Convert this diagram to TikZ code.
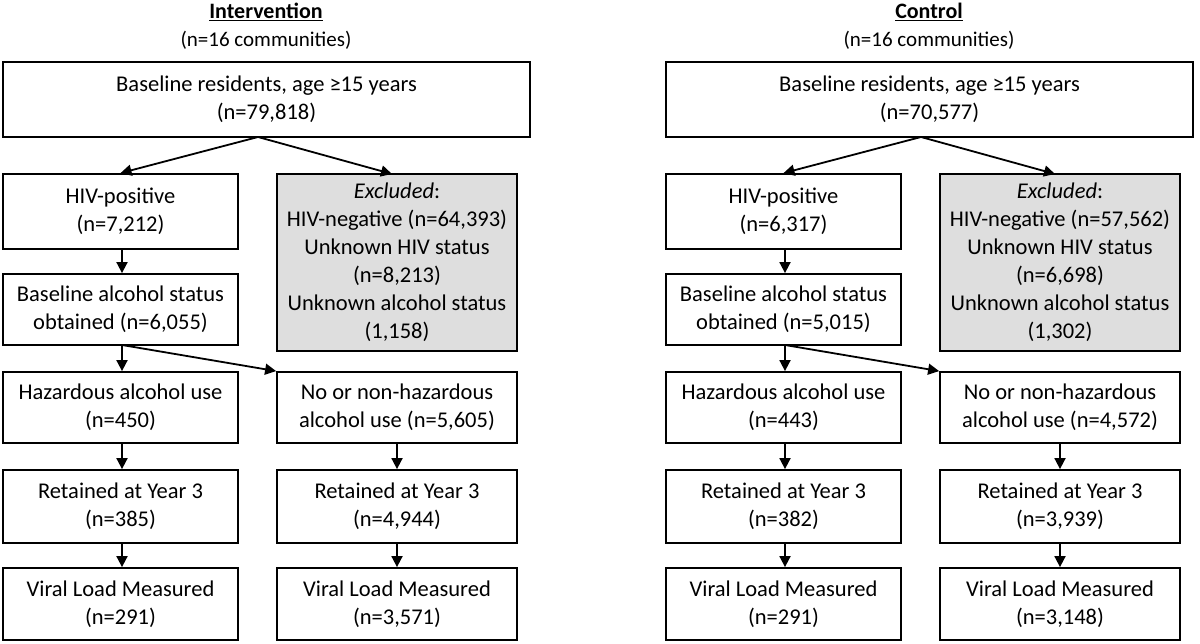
\documentclass[tikz,border=0pt]{standalone}
\usepackage{fontspec}
\setmainfont{Carlito}
\usetikzlibrary{arrows.meta}
\begin{document}
\begin{tikzpicture}[x=1pt,y=-1pt,
  box/.style={draw,line width=1.8pt,align=center,font=\fontsize{22.5}{28}\selectfont,inner sep=0pt},
  gray box/.style={box,fill=black!13},
  arr/.style={line width=1.8pt,-{Triangle[length=11pt,width=11pt]}},
  hd/.style={font=\fontsize{21}{24}\selectfont,align=center}]
\useasboundingbox (0,0) rectangle (1200,644);
\foreach \o/\p/\title/\nA/\nB/\nC/\nD/\nE/\nF/\nG/\nH/\nI/\nJ/\nK/\nL in
 {0/L/Intervention/{79,818}/{7,212}/{64,393}/{8,213}/{1,158}/{6,055}/450/{5,605}/385/{4,944}/291/{3,571},
  663/R/Control/{70,577}/{6,317}/{57,562}/{6,698}/{1,302}/{5,015}/443/{4,572}/382/{3,939}/291/{3,148}}{
 \begin{scope}[xshift=\o pt]
  \node[hd] (t\p) at (266,12) {\fontsize{22}{24}\selectfont\textbf{\underline{\title}}};
  \node[hd] (s\p) at (266,40) {(n=16 communities)};
  \node[box,minimum width=527pt,minimum height=75pt] (b\p) at (266.5,99.5) {Baseline residents, age ≥15 years\\(n=\nA)};
  \node[box,minimum width=235pt,minimum height=75pt] (h\p) at (120.5,211.5) {HIV-positive\\(n=\nB)};
  \node[gray box,minimum width=240pt,minimum height=177pt] (x\p) at (397,262.5) {\textit{Excluded}:\\HIV-negative (n=\nC)\\Unknown HIV status\\(n=\nD)\\Unknown alcohol status\\(\nE)};
  \node[box,minimum width=235pt,minimum height=71pt] (a\p) at (120.5,309.5) {Baseline alcohol status\\obtained (n=\nF)};
  \node[box,minimum width=235pt,minimum height=71pt] (z\p) at (120.5,407.5) {Hazardous alcohol use\\(n=\nG)};
  \node[box,minimum width=240pt,minimum height=71pt] (n\p) at (397,407.5) {No or non-hazardous\\alcohol use (n=\nH)};
  \node[box,minimum width=235pt,minimum height=73pt] (r\p) at (120.5,506.5) {Retained at Year 3\\(n=\nI)};
  \node[box,minimum width=240pt,minimum height=73pt] (q\p) at (397,506.5) {Retained at Year 3\\(n=\nJ)};
  \node[box,minimum width=235pt,minimum height=72pt] (v\p) at (120.5,604) {Viral Load Measured\\(n=\nK)};
  \node[box,minimum width=240pt,minimum height=72pt] (w\p) at (397,604) {Viral Load Measured\\(n=\nL)};
  \coordinate (bb\p) at (258,137);
  \coordinate (ab\p) at (122,345);
  \draw[arr] (bb\p) -- (h\p.north);
  \draw[arr] (bb\p) -- (392,174);
  \draw[arr] (122,249) -- (a\p.north -| ab\p);
  \draw[arr] (ab\p) -- (z\p.north -| ab\p);
  \draw[arr] (ab\p) -- (n\p.north west);
  \draw[arr] (r\p.north -| ab\p) ++(0,-27) -- (r\p.north -| ab\p);
  \draw[arr] (v\p.north -| ab\p) ++(0,-25) -- (v\p.north -| ab\p);
  \draw[arr] (n\p.south) -- (q\p.north);
  \draw[arr] (q\p.south) -- (w\p.north);
 \end{scope}}
\end{tikzpicture}
\end{document}
